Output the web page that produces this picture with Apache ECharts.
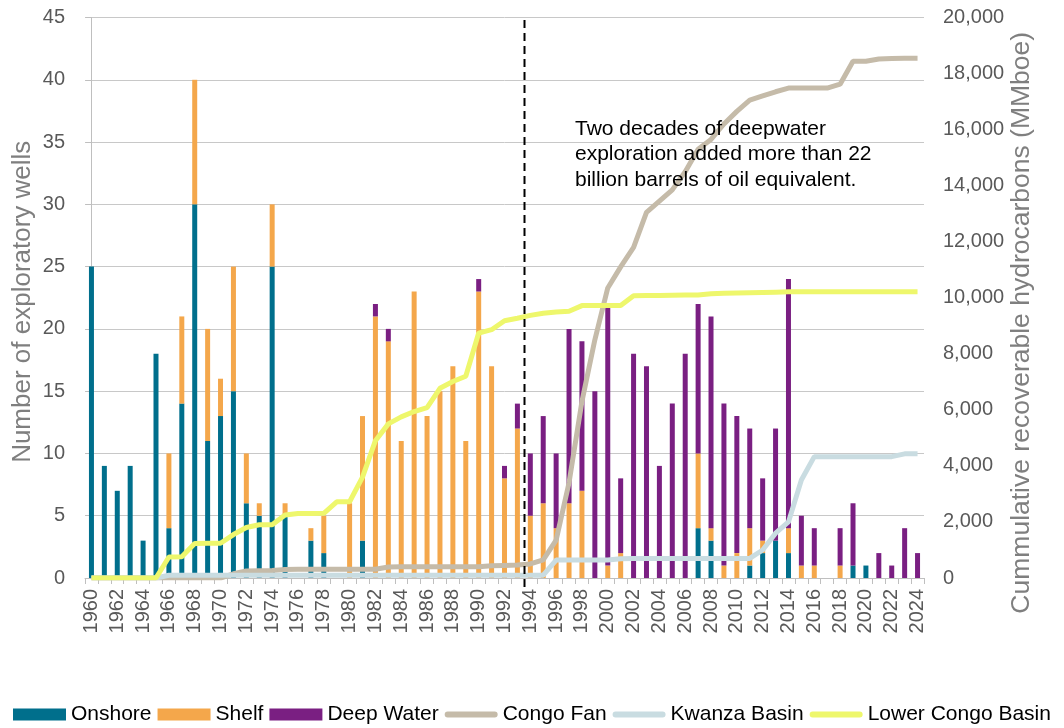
<!DOCTYPE html>
<html>
<head>
<meta charset="utf-8">
<script src="https://cdn.jsdelivr.net/npm/echarts@6/dist/echarts.min.js"></script>
<style>
html,body{margin:0;padding:0;background:#fff;}
#chart{width:1064px;height:728px;}
</style>
</head>
<body>
<div id="chart"></div>
<script>
// ---- data ----
const years = [];
for (let y = 1960; y <= 2024; y++) years.push(String(y));

const onshore = [25,9,7,9,3,18,4,14,30,11,13,15,6,5,25,5,0,3,2,0,0,3,0,0,0,0,0,0,0,0,0,0,0,0,0,0,0,0,0,0,0,0,0,0,0,0,0,4,3,0,0,1,2,3,2,0,0,0,0,1,1,0,0,0,0];
const shelf   = [0,0,0,0,0,0,6,7,10,9,3,10,4,1,5,1,0,1,3,0,6,10,21,19,11,23,13,15,17,11,23,17,8,12,5,6,4,6,7,0,1,2,0,0,0,0,0,6,1,1,2,3,1,0,2,1,1,0,1,0,0,0,0,0,0];
const deepWater = [0,0,0,0,0,0,0,0,0,0,0,0,0,0,0,0,0,0,0,0,0,0,1,1,0,0,0,0,0,0,1,0,1,2,5,7,6,14,12,15,21,6,18,17,9,14,18,12,17,13,11,8,5,9,20,4,3,0,3,5,0,2,1,4,2];

const congoFan = [0,0,0,0,0,0,0,0,0,0,0,150,250,260,270,300,310,310,310,310,310,310,310,390,400,400,400,400,400,400,400,440,450,460,500,650,1350,3400,6300,8500,10350,11100,11800,13050,13450,13850,14500,15300,15650,16200,16650,17050,17200,17350,17480,17480,17480,17480,17620,18440,18440,18520,18540,18550,18550];
const kwanzaBasin = [0,0,0,0,0,0,100,100,100,100,100,100,100,100,100,100,100,100,100,100,100,100,100,100,100,100,100,100,100,100,100,100,100,100,100,100,640,640,640,640,640,690,700,700,700,700,700,700,700,700,700,700,1000,1600,2000,3500,4330,4330,4330,4330,4330,4330,4330,4430,4430];
const lowerCongoBasin = [0,0,0,0,0,0,750,760,1230,1240,1240,1550,1800,1900,1900,2250,2300,2300,2310,2720,2720,3600,4900,5500,5750,5940,6080,6770,7010,7200,8740,8860,9180,9270,9370,9450,9490,9520,9720,9720,9720,9720,10070,10080,10080,10090,10100,10100,10140,10160,10170,10180,10190,10200,10210,10210,10210,10210,10210,10210,10210,10210,10210,10210,10210];

// position of the dashed divider, as a category index (between 1993 and 1994)
const dividerIndex = 33.55;
const dividerSpan = [44.8, -1.1];

const annotation = 'Two decades of deepwater\nexploration added more than 22\nbillion barrels of oil equivalent.';

// ---- chart ----
const FONT = '"Liberation Sans", Arial, sans-serif';
const RECT_ICON = 'path://M0,0 L53,0 L53,12 L0,12 Z';
const LINE_ICON = 'path://M0,0 L0.01,0 L0,0 Z M53,12 L52.99,12 L53,12 Z M3,3 L50,3 A3,3 0 0 1 50,9 L3,9 A3,3 0 0 1 3,3 Z';

const chart = echarts.init(document.getElementById('chart'));

chart.setOption({
  animation: false,
  textStyle: { fontFamily: FONT },
  grid: { left: 85, right: 140, top: 17.5, bottom: 150, containLabel: false, outerBoundsMode: 'none' },
  legend: {
    left: 13, top: 704, padding: 0,
    itemWidth: 53, itemHeight: 12, itemGap: 6,
    textStyle: { fontSize: 21, color: '#000', fontFamily: FONT },
    data: [
      { name: 'Onshore', icon: RECT_ICON },
      { name: 'Shelf', icon: RECT_ICON },
      { name: 'Deep Water', icon: RECT_ICON },
      { name: 'Congo Fan', icon: LINE_ICON },
      { name: 'Kwanza Basin', icon: LINE_ICON },
      { name: 'Lower Congo Basin', icon: LINE_ICON }
    ]
  },
  xAxis: [{
    type: 'category', data: years, boundaryGap: true,
    axisLine: { lineStyle: { color: '#BFBFBF', width: 1 } },
    axisTick: { show: true, interval: 0, length: 6, lineStyle: { color: '#BFBFBF' } },
    axisLabel: { interval: 1, rotate: 90, fontSize: 20, margin: 11, color: '#595959', fontFamily: FONT },
    splitLine: { show: false }
  }, {
    type: 'value', min: -0.5, max: 64.5, show: false
  }],
  yAxis: [{
    type: 'value', min: 0, max: 45, interval: 5,
    name: 'Number of exploratory wells', nameLocation: 'middle', nameGap: 49, nameMoveOverlap: false,
    nameTextStyle: { fontSize: 26, color: '#7F7F7F', fontFamily: FONT, padding: [0, 8, 0, 0] },
    axisLine: { show: true, lineStyle: { color: '#BFBFBF' } },
    axisTick: { show: true, length: 6, lineStyle: { color: '#BFBFBF' } },
    axisLabel: { fontSize: 20, margin: 20, color: '#595959', fontFamily: FONT },
    splitLine: { lineStyle: { color: '#C8C8C8', width: 1 } }
  }, {
    type: 'value', min: 0, max: 20000, interval: 2000, position: 'right',
    name: 'Cummulative recoverable hydrocarbons (MMboe)', nameLocation: 'middle', nameGap: 84, nameMoveOverlap: false,
    nameTextStyle: { fontSize: 26.5, color: '#7F7F7F', fontFamily: FONT, padding: [0, 50, 0, 0] },
    axisLine: { show: false }, axisTick: { show: false },
    axisLabel: { fontSize: 20, margin: 19, color: '#595959', fontFamily: FONT, align: 'left',
      formatter: v => v.toLocaleString('en-US') },
    splitLine: { show: false }
  }],
  series: [
    { name: 'Onshore', type: 'bar', stack: 'wells', data: onshore, barWidth: 5,
      itemStyle: { color: '#006F8C' }, z: 2 },
    { name: 'Shelf', type: 'bar', stack: 'wells', data: shelf, barWidth: 5,
      itemStyle: { color: '#F4A74B' }, z: 2 },
    { name: 'Deep Water', type: 'bar', stack: 'wells', data: deepWater, barWidth: 5,
      itemStyle: { color: '#7A1F82' }, z: 2 },
    { name: 'Congo Fan', type: 'line', yAxisIndex: 1, data: congoFan, symbol: 'none',
      lineStyle: { color: '#C5BBA9', width: 5 }, itemStyle: { color: '#C5BBA9' }, z: 3 },
    { name: 'Kwanza Basin', type: 'line', yAxisIndex: 1, data: kwanzaBasin, symbol: 'none',
      lineStyle: { color: '#C9DCE1', width: 5 }, itemStyle: { color: '#C9DCE1' }, z: 3 },
    { name: 'Lower Congo Basin', type: 'line', yAxisIndex: 1, data: lowerCongoBasin, symbol: 'none',
      lineStyle: { color: '#EEF76C', width: 5 }, itemStyle: { color: '#EEF76C' }, z: 4 },
    { name: 'divider', type: 'line', xAxisIndex: 1, yAxisIndex: 0, symbol: 'none', clip: false,
      silent: true, z: 5,
      data: [[dividerIndex, dividerSpan[0]], [dividerIndex, dividerSpan[1]]],
      lineStyle: { color: '#000', width: 2, type: [8, 5] } }
  ],
  graphic: [{
    type: 'text', left: 575, top: 116, z: 10,
    style: { text: annotation, fontSize: 21, lineHeight: 25.5, fill: '#000', fontFamily: FONT }
  }]
});
</script>
</body>
</html>
